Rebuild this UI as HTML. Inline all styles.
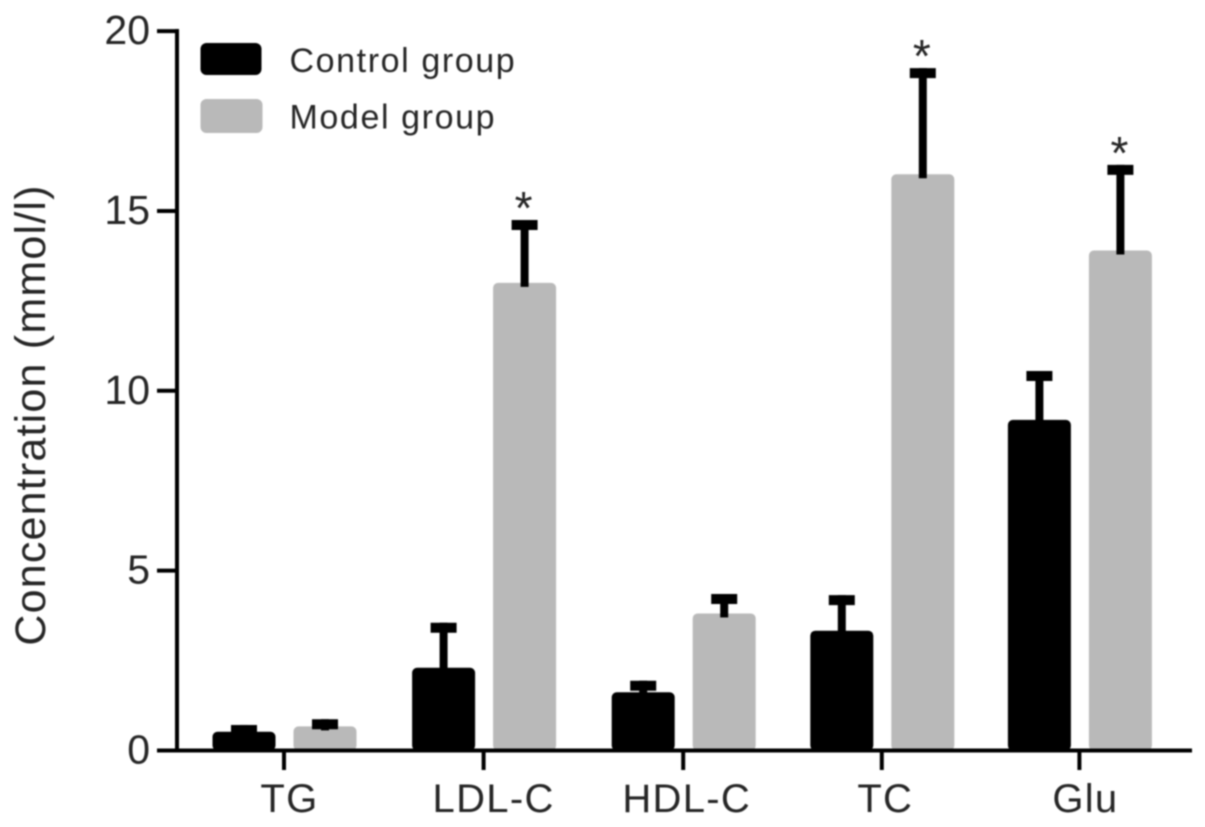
<!DOCTYPE html>
<html>
<head>
<meta charset="utf-8">
<style>
html,body{margin:0;padding:0;background:#fff;}
svg{display:block;filter:blur(0.8px);}
text{font-family:"Liberation Sans",sans-serif;fill:#262626;}
</style>
</head>
<body>
<svg id="chart" width="1205" height="827" viewBox="0 0 1205 827" xmlns="http://www.w3.org/2000/svg"></svg>
<script>
const categories = ["TG", "LDL-C", "HDL-C", "TC", "Glu"];
const controlValues = [0.52, 2.3, 1.62, 3.33, 9.19];
const controlErrors = [0.19, 1.25, 0.32, 0.99, 1.36];
const modelValues = [0.67, 13.0, 3.81, 16.02, 13.9];
const modelErrors = [0.2, 1.75, 0.54, 2.95, 2.38];
const significant = [false, true, false, true, true];
const yTicks = [0, 5, 10, 15, 20];
const seriesNames = ["Control group", "Model group"];
const yAxisTitle = "Concentration (mmol/l)";

const svg = document.getElementById('chart');
const NS = 'http://www.w3.org/2000/svg';
const y = v => 750.5 - v * 35.97;
const groupCenter = i => 284.5 + i * 199.6 - (i === 3 ? 1 : 0) - (i === 4 ? 3 : 0);
const controlX = i => groupCenter(i) - 40.5;
const modelX = i => groupCenter(i) + 40.5;
const barW = 63;
const capW = 26;

function add(tag, attrs, text) {
  const el = document.createElementNS(NS, tag);
  for (const k in attrs) el.setAttribute(k, attrs[k]);
  if (text !== undefined) el.textContent = text;
  svg.appendChild(el);
  return el;
}

function drawSeries(values, errors, xFn, color, key) {
  values.forEach((v, i) => {
    const cx = xFn(i);
    const top = y(v + errors[i]);
    const bar = add('rect', {x: cx - barW / 2, y: y(v), width: barW, height: y(0) - y(v), fill: color, rx: 5});
    
    
    const stem = add('line', {x1: cx, x2: cx, y1: y(v) + 4, y2: top, stroke: '#000', 'stroke-width': 8});
    
    
    const cap = add('line', {x1: cx - capW / 2, x2: cx + capW / 2, y1: top + 5, y2: top + 5, stroke: '#000', 'stroke-width': 10});
    
    
  });
}

drawSeries(controlValues, controlErrors, controlX, '#000', 'control');
drawSeries(modelValues, modelErrors, modelX, '#b9b9b9', 'model');

significant.forEach((s, i) => {
  if (!s) return;
  const t = add('text', {x: modelX(i) - 1, y: y(modelValues[i] + modelErrors[i]) + 4, 'text-anchor': 'middle', 'font-size': 46}, '*');
  
  
});

const yAxis = add('line', {x1: 177, x2: 177, y1: 29, y2: 752, stroke: '#000', 'stroke-width': 4});


const xAxis = add('line', {x1: 157, x2: 1192, y1: 750.5, y2: 750.5, stroke: '#000', 'stroke-width': 4});



yTicks.forEach(v => {
  const tick = add('line', {x1: 157, x2: 177, y1: y(v), y2: y(v), stroke: '#000', 'stroke-width': 4});
  
  
  const label = add('text', {x: 150, y: y(v) + 13, 'text-anchor': 'end', 'font-size': 41}, String(v));
  
  
});

categories.forEach((c, i) => {
  const nudge = {"TG": 5, "LDL-C": 9.5, "HDL-C": 3, "TC": 3, "Glu": 5.5}[c] || 5;
  const tick = add('line', {x1: groupCenter(i) - 0.5, x2: groupCenter(i) - 0.5, y1: 750, y2: 770, stroke: '#000', 'stroke-width': 4});
  
  
  const label = add('text', {x: groupCenter(i) + nudge, y: 812, 'text-anchor': 'middle', 'font-size': 40, 'letter-spacing': 1.3}, c);
  
  
});

const title = add('text', {transform: 'translate(45,415) rotate(-90)', 'text-anchor': 'middle', 'font-size': 43, 'letter-spacing': 1.2}, yAxisTitle);



const swatch1 = add('rect', {x: 200.5, y: 43, width: 61, height: 32, rx: 6, fill: '#000'});


const legend1 = add('text', {x: 289.5, y: 72, 'font-size': 34, 'letter-spacing': 1.6}, seriesNames[0]);


const swatch2 = add('rect', {x: 200.5, y: 99, width: 62, height: 34, rx: 6, fill: '#b9b9b9'});


const legend2 = add('text', {x: 289.5, y: 128.5, 'font-size': 34, 'letter-spacing': 1.6}, seriesNames[1]);


</script>
</body>
</html>
